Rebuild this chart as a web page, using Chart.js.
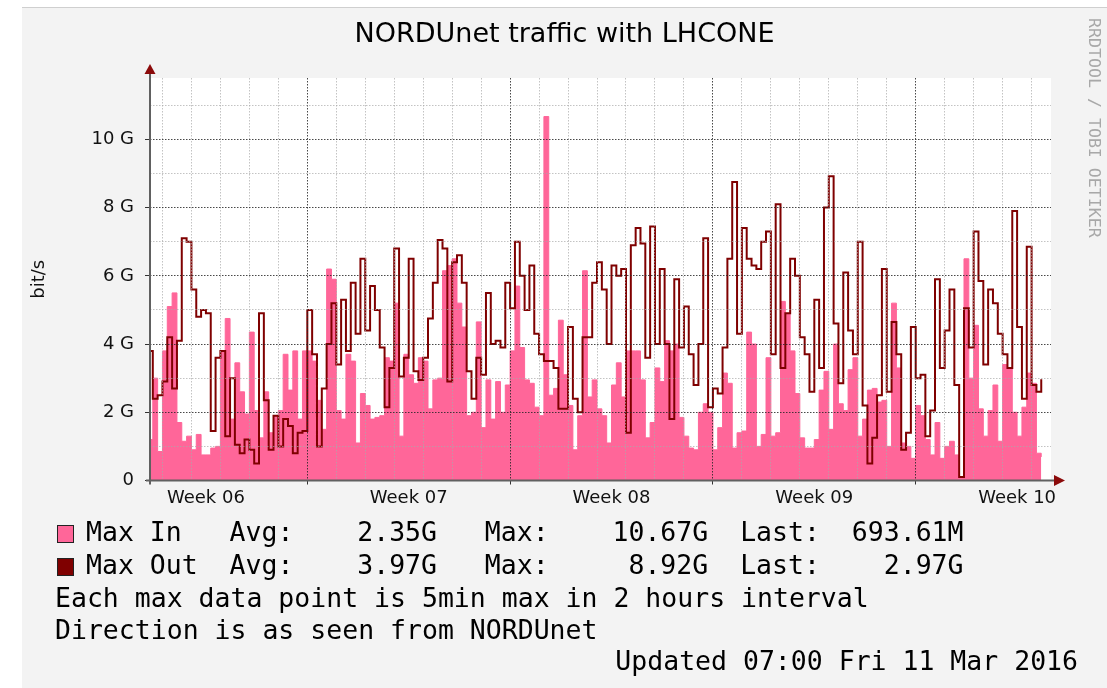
<!DOCTYPE html>
<html>
<head>
<meta charset="utf-8">
<title>NORDUnet traffic with LHCONE</title>
<script src="https://cdn.jsdelivr.net/npm/chart.js@4.4.1/dist/chart.umd.min.js"></script>
<style>
  html, body { margin: 0; padding: 0; background: #fff; }
</style>
</head>
<body>
<canvas id="graficoTrafego" width="1107" height="688"></canvas>
<script>
// 4 hour samples, x in days since Mon 8 Feb 2016 00:00, values in Gbit/s
const inicioDias = 1.5;
const passoDias = 4 / 24;

const maxIn = [
  1.2, 3.0, 0.85, 3.8, 5.1, 5.5, 1.7, 1.15, 1.3, 0.9, 1.35, 0.75, 0.75, 0.95, 1.0, 3.8,
  4.75, 1.8, 3.45, 2.6, 1.95, 4.35, 2.05, 1.25, 2.6, 1.4, 1.9, 2.05, 3.7, 2.65, 3.8, 1.8,
  3.8, 3.8, 3.5, 2.35, 1.5, 6.2, 5.9, 2.05, 1.8, 3.7, 3.5, 1.1, 2.55, 2.2, 1.8, 1.85,
  1.9, 3.6, 3.5, 5.2, 1.3, 3.7, 3.1, 2.85, 3.6, 3.5, 2.1, 2.95, 3.0, 6.15, 6.3, 6.5,
  5.2, 4.5, 1.9, 2.0, 4.65, 1.55, 2.95, 1.8, 2.9, 2.0, 2.8, 3.8, 5.7, 3.9, 2.95, 2.85,
  2.15, 1.9, 10.67, 2.5, 2.7, 4.7, 3.1, 2.2, 0.9, 1.9, 6.15, 2.45, 2.95, 2.1, 1.9, 1.1,
  2.8, 3.45, 2.45, 3.8, 3.8, 3.8, 2.95, 1.25, 1.7, 3.3, 2.9, 4.1, 3.8, 4.0, 1.85, 1.3,
  0.95, 0.9, 2.0, 2.25, 2.0, 0.9, 1.55, 3.15, 2.85, 0.95, 1.4, 1.45, 4.35, 4.0, 1.0, 1.35,
  3.6, 1.3, 1.4, 5.25, 4.9, 3.8, 2.55, 1.25, 0.95, 0.95, 1.2, 2.65, 3.2, 1.5, 4.0, 2.25,
  2.05, 3.25, 3.6, 1.3, 1.8, 2.65, 2.7, 2.3, 2.35, 1.0, 5.2, 3.3, 1.1, 1.0, 0.65, 2.2,
  1.9, 1.2, 0.75, 1.7, 0.65, 1.0, 1.15, 0.75, 0.1, 6.5, 3.0, 4.55, 2.1, 1.3, 2.05, 2.8,
  1.15, 3.4, 3.3, 2.0, 1.3, 2.15, 3.15, 2.85, 0.8, 0.69
];

const maxOut = [
  3.8, 2.4, 2.5, 2.9, 4.2, 2.7, 4.1, 7.1, 7.0, 5.6, 4.8, 5.0, 4.9, 1.45, 3.6, 3.8,
  1.3, 3.0, 1.05, 0.8, 1.2, 0.9, 0.5, 4.9, 2.35, 0.9, 1.9, 1.0, 1.8, 1.6, 0.8, 1.4,
  1.45, 5.0, 3.7, 1.0, 2.7, 4.0, 5.2, 3.4, 5.3, 3.8, 5.8, 4.3, 6.5, 4.4, 5.7, 5.0,
  3.9, 2.15, 3.3, 6.8, 3.05, 3.6, 6.5, 3.2, 2.95, 3.6, 4.75, 5.8, 7.05, 6.8, 2.9, 6.4,
  6.6, 5.8, 3.2, 2.4, 3.6, 3.1, 5.5, 4.0, 4.1, 3.9, 5.8, 5.05, 7.0, 6.0, 5.0, 6.3,
  4.3, 3.7, 3.5, 3.5, 3.3, 2.1, 2.1, 4.5, 2.4, 2.0, 4.2, 4.2, 5.8, 6.4, 5.6, 4.0,
  6.3, 6.0, 6.2, 1.4, 6.9, 7.4, 6.95, 3.6, 7.45, 4.0, 6.2, 4.0, 1.8, 5.9, 3.9, 5.1,
  3.7, 2.8, 4.0, 7.1, 2.15, 2.7, 2.55, 3.9, 6.5, 8.75, 4.3, 7.4, 6.5, 6.3, 6.2, 7.0,
  7.3, 3.7, 8.1, 3.3, 4.9, 6.5, 6.0, 4.2, 3.7, 2.6, 5.3, 3.3, 8.0, 8.92, 4.6, 2.85,
  6.1, 4.4, 3.7, 7.0, 2.2, 0.5, 1.25, 2.5, 6.2, 2.6, 4.65, 3.7, 0.9, 1.4, 4.5, 3.0,
  3.1, 1.3, 2.05, 5.9, 3.3, 4.4, 5.6, 2.8, 0.1, 5.05, 3.9, 7.3, 5.85, 3.4, 5.6, 5.2,
  4.3, 3.7, 3.3, 7.9, 4.5, 2.4, 6.85, 2.8, 2.6, 2.97
];

const semanaRotulos = ['Week 06', 'Week 07', 'Week 08', 'Week 09', 'Week 10'];
const semanaInicio = [0, 7, 14, 21, 28];
const yTicks = [0, 2, 4, 6, 8, 10];
const yRotulos = ['0', '2 G', '4 G', '6 G', '8 G', '10 G'];

const legendaIn = 'Max In   Avg:    2.35G   Max:    10.67G  Last:  693.61M';
const legendaOut = 'Max Out  Avg:    3.97G   Max:     8.92G  Last:    2.97G';
const notas = ['Each max data point is 5min max in 2 hours interval', 'Direction is as seen from NORDUnet'];
const atualizado = 'Updated 07:00 Fri 11 Mar 2016';

const corIn = '#ff6699';
const corOut = '#7f0000';
const gradeMaior = 'rgba(40,40,40,0.85)';
const gradeMenor = 'rgba(170,170,170,0.7)';
const fonteMono = '"DejaVu Sans Mono", monospace';

Chart.defaults.font.family = '"DejaVu Sans", sans-serif';

function pontos(valores) {
  return valores.map((v, i) => ({ x: inicioDias + i * passoDias, y: v }));
}

const rrdEstilo = {
  id: 'rrdEstilo',
  beforeDraw(chart) {
    const { ctx, chartArea: a } = chart;
    ctx.save();
    ctx.fillStyle = '#ffffff';
    ctx.fillRect(0, 0, chart.width, chart.height);
    ctx.fillStyle = '#f3f3f3';
    ctx.fillRect(22, 8, chart.width - 22, chart.height - 8);
    ctx.fillStyle = '#cfcfcf';
    ctx.fillRect(22, 7, chart.width - 22, 1);
    ctx.fillStyle = '#ffffff';
    ctx.fillRect(a.left, a.top, a.right - a.left, a.bottom - a.top);
    ctx.restore();
  },
  afterDraw(chart) {
    const { ctx, chartArea: a } = chart;
    ctx.save();

    // axes with arrows
    ctx.strokeStyle = '#606060';
    ctx.lineWidth = 2;
    ctx.beginPath();
    ctx.moveTo(a.left, a.bottom + 4);
    ctx.lineTo(a.left, a.top - 6);
    ctx.moveTo(a.left - 4, a.bottom);
    ctx.lineTo(a.right + 3, a.bottom);
    ctx.stroke();
    ctx.fillStyle = '#8b0a0a';
    ctx.beginPath();
    ctx.moveTo(a.left, a.top - 14);
    ctx.lineTo(a.left - 5.5, a.top - 4);
    ctx.lineTo(a.left + 5.5, a.top - 4);
    ctx.closePath();
    ctx.fill();
    ctx.beginPath();
    ctx.moveTo(a.right + 14, a.bottom);
    ctx.lineTo(a.right + 3, a.bottom - 5.5);
    ctx.lineTo(a.right + 3, a.bottom + 5.5);
    ctx.closePath();
    ctx.fill();

    // legend
    ctx.font = '26.5px ' + fonteMono;
    ctx.textBaseline = 'middle';
    ctx.textAlign = 'left';
    const linhas = [
      { cor: chart.data.datasets[1].backgroundColor, texto: legendaIn, y: 534 },
      { cor: chart.data.datasets[0].borderColor, texto: legendaOut, y: 567 }
    ];
    linhas.forEach(l => {
      ctx.fillStyle = l.cor;
      ctx.fillRect(57, l.y - 9, 17, 18);
      ctx.strokeStyle = '#222';
      ctx.lineWidth = 1;
      ctx.strokeRect(57.5, l.y - 8.5, 16, 17);
      ctx.fillStyle = '#000';
      ctx.fillText(l.texto, 86, l.y);
    });
    ctx.fillText(notas[0], 55, 600);
    ctx.fillText(notas[1], 55, 632);
    ctx.textAlign = 'right';
    ctx.fillText(atualizado, 1078, 663);

    // watermark
    ctx.translate(1093, 18);
    ctx.rotate(Math.PI / 2);
    ctx.textAlign = 'left';
    ctx.fillStyle = '#a8a8a8';
    ctx.font = '16.6px ' + fonteMono;
    ctx.fillText('RRDTOOL / TOBI OETIKER', 0, 0);
    ctx.restore();
  }
};

const fonteEixo = { size: 18 };

const ctxTrafego = document.getElementById('graficoTrafego').getContext('2d');
const graficoTrafego = new Chart(ctxTrafego, {
  type: 'line',
  data: {
    datasets: [{
      label: 'Max Out',
      data: pontos(maxOut),
      stepped: true,
      borderColor: corOut,
      borderWidth: 2,
      pointRadius: 0,
      fill: false,
      order: 1
    }, {
      label: 'Max In',
      data: pontos(maxIn),
      stepped: true,
      borderColor: corIn,
      backgroundColor: corIn,
      borderWidth: 1,
      pointRadius: 0,
      fill: 'origin',
      order: 2
    }]
  },
  options: {
    responsive: false,
    animation: false,
    events: [],
    layout: { padding: { left: 22, top: 8, right: 0, bottom: 167.5 } },
    scales: {
      x: {
        type: 'linear',
        min: 1.57,
        max: 32.67,
        afterBuildTicks: (s) => {
          const t = [];
          for (let d = Math.ceil(s.min); d <= s.max; d++) t.push(d);
          semanaInicio.forEach(w => t.push(w + 3.5));
          s.ticks = t.filter(v => v >= s.min && v <= s.max).sort((p, q) => p - q).map(v => ({ value: v }));
        },
        afterFit: (s) => { s.height = 40; },
        ticks: {
          autoSkip: false,
          maxRotation: 0,
          padding: 3,
          color: '#111',
          font: fonteEixo,
          callback: (v) => {
            const i = semanaInicio.indexOf(v - 3.5);
            return i >= 0 ? semanaRotulos[i] : '';
          }
        },
        grid: {
          z: 1,
          lineWidth: 1,
          tickLength: 4,
          color: (c) => {
            const v = c.tick.value;
            if (!Number.isInteger(v)) return 'rgba(0,0,0,0)';
            return v % 7 === 0 ? gradeMaior : gradeMenor;
          },
          tickColor: (c) => (c.tick.value % 7 === 0 ? '#333' : 'rgba(0,0,0,0)')
        },
        border: { display: false, dash: [1.5, 1.5] }
      },
      y: {
        min: 0,
        max: 11.8,
        afterFit: (s) => { s.width = 128; },
        ticks: {
          stepSize: 1,
          includeBounds: false,
          autoSkip: false,
          padding: 11,
          color: '#111',
          font: fonteEixo,
          callback: (v) => {
            const i = yTicks.indexOf(v);
            return i >= 0 ? yRotulos[i] : '';
          }
        },
        grid: {
          z: 1,
          lineWidth: 1,
          tickLength: 5,
          color: (c) => (c.tick.value % 2 === 0 ? gradeMaior : gradeMenor),
          tickColor: (c) => (c.tick.value % 2 === 0 ? '#333' : 'rgba(0,0,0,0)')
        },
        border: { display: false, dash: [1.5, 1.5] },
        title: {
          display: true,
          text: 'bit/s',
          color: '#111',
          font: fonteEixo,
          padding: { top: 7, bottom: 0 }
        }
      },
      margem: {
        position: 'right',
        afterFit: (s) => { s.width = 56; },
        grid: { display: false },
        ticks: { display: false },
        border: { display: false }
      }
    },
    plugins: {
      legend: { display: false },
      tooltip: { enabled: false },
      title: {
        display: true,
        text: 'NORDUnet traffic with LHCONE',
        color: '#000',
        font: { size: 27, weight: 'normal' },
        padding: { top: 11, bottom: 26.6 }
      }
    }
  },
  plugins: [rrdEstilo]
});
</script>
</body>
</html>
